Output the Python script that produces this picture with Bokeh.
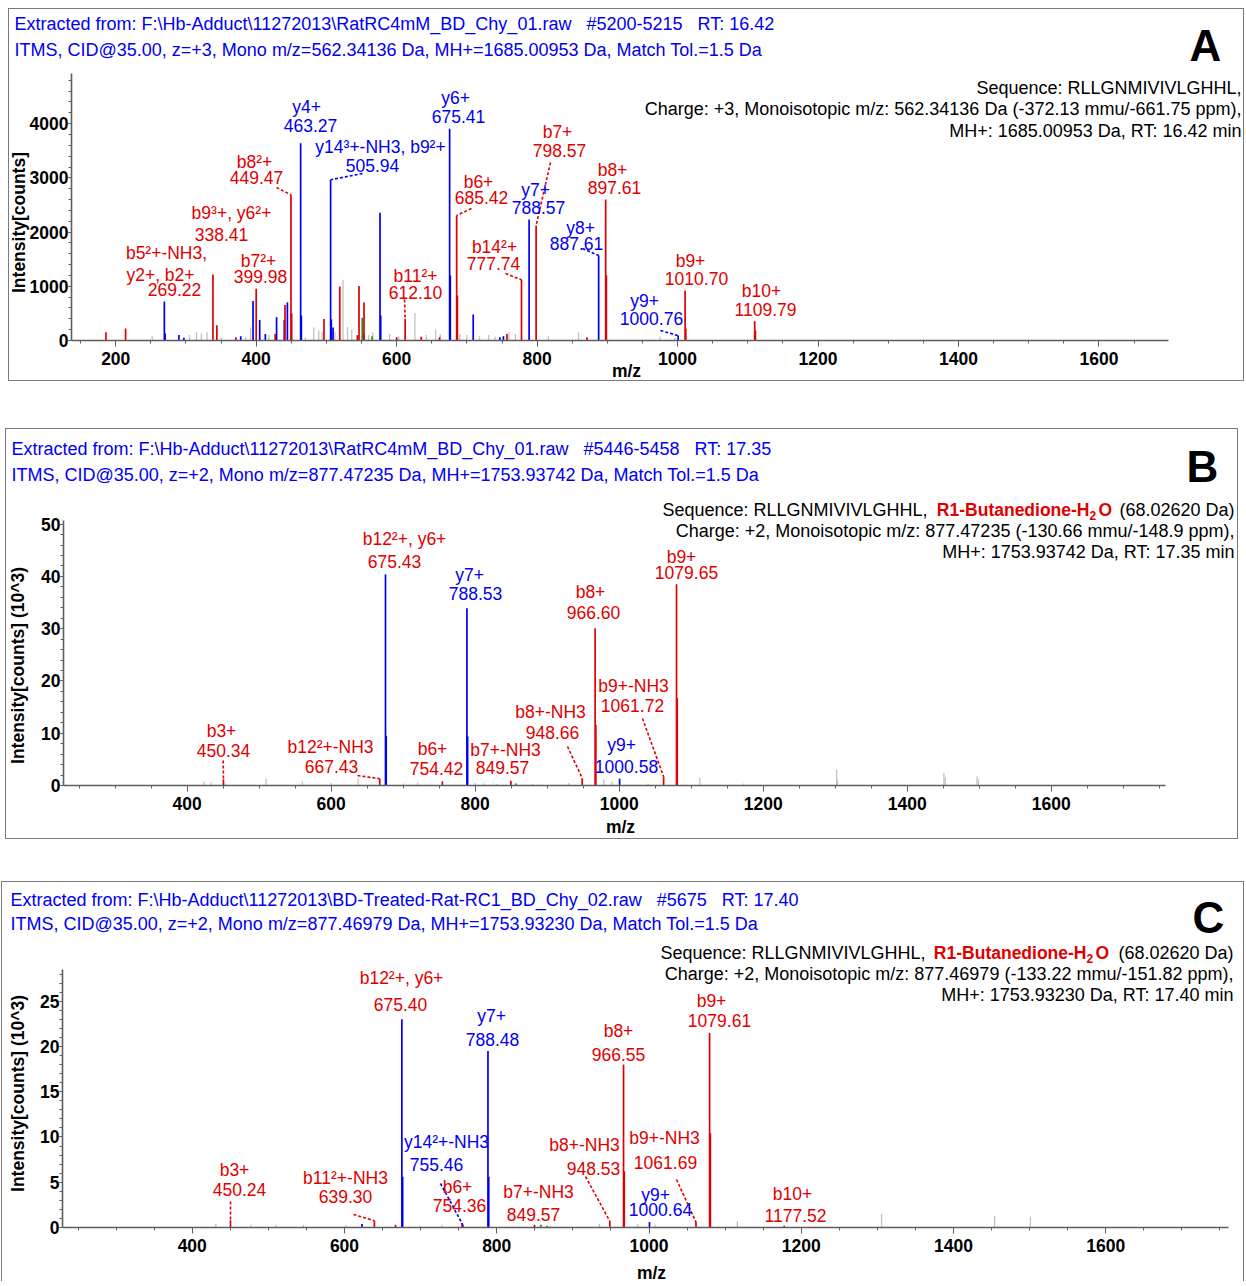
import math
from bokeh.plotting import figure
from bokeh.models import (ColumnDataSource, Label, Range1d, SingleIntervalTicker, Spacer,
                          LinearAxis)
from bokeh.layouts import column, row
from bokeh.embed import file_html
from bokeh.resources import INLINE

# ======================= DATA =======================
# ---- Panel A (intensity in counts) ----
a_b_mz = [186, 214, 338.41, 344, 371, 399.98, 427, 441, 449.47, 450.5, 496.5, 519, 544, 546.4, 553.5,
          600, 612.10, 635, 661, 685.42, 686.5, 757, 777.74, 798.57, 871, 897.61, 898.6, 1010.70,
          1011.7, 1109.79, 1110.8]
a_b_int = [150, 220, 1218, 280, 60, 954, 120, 653, 2688, 500, 397, 995, 100, 1007, 701,
           60, 400, 70, 60, 2306, 830, 120, 1120, 2122, 60, 2601, 1200, 922,
           220, 356, 185]
a_y_mz = [269.22, 270.3, 290, 297, 378, 395.5, 405, 413, 429, 440, 444.4, 463.27, 464.3, 505.94,
          506.9, 509.4, 576.3, 577.3, 675.41, 676.4, 709, 747, 752, 788.57, 887.61, 1000.76]
a_y_int = [720, 130, 100, 50, 80, 730, 380, 120, 430, 380, 703, 3640, 460, 2965,
           390, 240, 2356, 460, 3906, 1200, 480, 60, 80, 2232, 1568, 90]
a_g_mz = [551, 553, 565]
a_g_int = [420, 120, 80]
a_n_mz = [252, 305, 315, 322, 330, 350, 385, 392, 418, 470, 482, 489, 494, 512, 523.6, 530, 536,
          560, 566, 590, 603, 626, 642, 655.5, 662, 690, 700, 718, 731, 740, 760, 769, 816, 859,
          975, 996]
a_n_int = [80, 100, 150, 130, 150, 60, 60, 240, 100, 60, 245, 185, 150, 150, 1118, 250, 200,
           100, 150, 120, 80, 505, 100, 200, 120, 120, 100, 80, 100, 70, 150, 120, 80, 150,
           70, 50]
a_ann_ion = ["y4+", "y14³+-NH3, b9²+", "y6+", "b7+", "b8²+", "b6+", "y7+", "b8+", "b9³+, y6²+",
             "y8+", "b5²+-NH3,\ny2+, b2+", "b14²+", "b7²+", "b11²+", "b9+", "b10+", "y9+"]
a_ann_mz = ["463.27", "505.94", "675.41", "798.57", "449.47", "685.42", "788.57", "897.61",
            "338.41", "887.61", "269.22", "777.74", "399.98", "612.10", "1010.70", "1109.79",
            "1000.76"]
a_ann_kind = ["y", "y", "y", "b", "b", "b", "y", "b", "b", "y", "b", "b", "b", "b", "b", "b", "y"]
a_ann_peak = ["y", "y", "y", "b", "b", "b", "y", "b", "b", "y", "y", "b", "b", "b", "b", "b", "y"]

# ---- Panel B (intensity in 10^3 counts) ----
b_b_mz = [450.34, 667.43, 754.42, 849.57, 948.66, 966.60, 967.6, 1061.72, 1079.65, 1080.6]
b_b_int = [1.2, 1.3, 0.8, 0.9, 1.4, 30.1, 11.6, 1.7, 38.5, 16.7]
b_y_mz = [675.43, 676.4, 788.53, 789.5, 1000.58]
b_y_int = [40.4, 9.5, 33.9, 9.4, 1.3]
b_g_mz = [857]
b_g_int = [0.4]
b_n_mz = [423.5, 433, 453, 509.6, 560, 600, 637.5, 700, 720, 800, 812, 830, 880, 930, 978.6, 990,
          1040, 1112, 1173, 1302, 1303, 1451, 1453, 1497, 1499]
b_n_int = [0.7, 0.6, 0.4, 1.3, 0.8, 0.5, 1.4, 0.4, 0.6, 0.5, 0.4, 0.3, 0.3, 0.5, 1.2, 0.7,
           0.4, 1.5, 0.4, 3.0, 1.2, 2.4, 1.6, 1.7, 1.2]
b_ann_ion = ["b12²+, y6+", "y7+", "b8+", "b9+", "b9+-NH3", "b8+-NH3", "y9+", "b3+", "b12²+-NH3",
             "b6+", "b7+-NH3"]
b_ann_mz = ["675.43", "788.53", "966.60", "1079.65", "1061.72", "948.66", "1000.58", "450.34",
            "667.43", "754.42", "849.57"]
b_ann_kind = ["b", "y", "b", "b", "b", "b", "y", "b", "b", "b", "b"]
b_ann_peak = ["y", "y", "b", "b", "b", "b", "y", "b", "b", "b", "b"]

# ---- Panel C (intensity in 10^3 counts) ----
c_b_mz = [450.24, 639.30, 667, 754.36, 849.57, 948.53, 966.55, 967.5, 1061.69, 1079.61, 1080.6, 1177.52]
c_b_int = [0.8, 0.75, 0.3, 0.5, 0.3, 0.7, 18.0, 6.2, 0.6, 21.5, 10.4, 0.2]
c_y_mz = [623, 675.40, 676.4, 755.46, 788.48, 789.5, 1000.64]
c_y_int = [0.4, 23.0, 5.6, 0.3, 19.5, 5.6, 0.6]
c_g_mz = [858, 866]
c_g_int = [0.3, 0.2]
c_n_mz = [431, 477, 510, 546, 602, 700, 728, 870, 935, 985, 1008, 1116, 1305.5, 1454, 1501]
c_n_int = [0.4, 0.3, 0.3, 0.3, 0.3, 0.2, 0.3, 0.2, 0.4, 0.4, 0.3, 0.7, 1.5, 1.3, 1.2]
c_ann_ion = ["b12²+, y6+", "y7+", "b8+", "b9+", "y14²+-NH3", "b9+-NH3", "b8+-NH3", "b3+",
             "b11²+-NH3", "b6+", "b7+-NH3", "y9+", "b10+"]
c_ann_mz = ["675.40", "788.48", "966.55", "1079.61", "755.46", "1061.69", "948.53", "450.24",
            "639.30", "754.36", "849.57", "1000.64", "1177.52"]
c_ann_kind = ["b", "y", "b", "b", "y", "b", "b", "b", "b", "b", "b", "y", "b"]
c_ann_peak = ["y", "y", "b", "b", "y", "b", "b", "b", "b", "b", "b", "y", "b"]

# ---- texts ----
NB = "\u00a0\u00a0\u00a0"
a_head = ["Extracted from: F:\\Hb-Adduct\\11272013\\RatRC4mM_BD_Chy_01.raw" + NB + "#5200-5215" + NB + "RT: 16.42",
          "ITMS, CID@35.00, z=+3, Mono m/z=562.34136 Da, MH+=1685.00953 Da, Match Tol.=1.5 Da"]
a_info = ["Sequence: RLLGNMIVIVLGHHL,",
          "Charge: +3, Monoisotopic m/z: 562.34136 Da (-372.13 mmu/-661.75 ppm),",
          "MH+: 1685.00953 Da, RT: 16.42 min"]
b_head = ["Extracted from: F:\\Hb-Adduct\\11272013\\RatRC4mM_BD_Chy_01.raw" + NB + "#5446-5458" + NB + "RT: 17.35",
          "ITMS, CID@35.00, z=+2, Mono m/z=877.47235 Da, MH+=1753.93742 Da, Match Tol.=1.5 Da"]
b_info = ["Sequence: RLLGNMIVIVLGHHL,", "(68.02620 Da)",
          "Charge: +2, Monoisotopic m/z: 877.47235 (-130.66 mmu/-148.9 ppm),",
          "MH+: 1753.93742 Da, RT: 17.35 min"]
c_head = ["Extracted from: F:\\Hb-Adduct\\11272013\\BD-Treated-Rat-RC1_BD_Chy_02.raw" + NB + "#5675" + NB + "RT: 17.40",
          "ITMS, CID@35.00, z=+2, Mono m/z=877.46979 Da, MH+=1753.93230 Da, Match Tol.=1.5 Da"]
c_info = ["Sequence: RLLGNMIVIVLGHHL,", "(68.02620 Da)",
          "Charge: +2, Monoisotopic m/z: 877.46979 (-133.22 mmu/-151.82 ppm),",
          "MH+: 1753.93230 Da, RT: 17.40 min"]
mod_text = ["R1-Butanedione-H", "2", "O"]

# ======================= LAYOUT / STYLE =======================
RED = "#e00000"
BLUE = "#0000f2"
GRAY = "#c2c2c2"
GREEN = "#17961a"
KCOL = {"b": RED, "y": BLUE, "g": GREEN, "n": GRAY}
FONT = "Liberation Sans"
FS = "17.5px"
FH = "18px"
BORDER = "1px solid #7a7a7a"

# page-pixel geometry: canvas origin (cx, cy), canvas size, data frame box
geoA = dict(cx=9, cy=9, cw=1236, ch=373, fl=71, ft=73, fw=1097, fh=267)
geoB = dict(cx=6, cy=431, cw=1233, ch=411, fl=63, ft=522, fw=1102, fh=265)
geoC = dict(cx=2, cy=886, cw=1243, ch=400, fl=62, ft=973, fw=1166, fh=258)

# label positions (page px): one point per text line (ion lines..., m/z line)
a_pos = [[(306, 106), (310, 125)], [(380, 146), (372, 165)], [(455, 97), (458, 116)],
         [(557, 131), (559, 150)], [(254, 161), (256, 177)], [(478, 181), (481, 197)],
         [(535, 189), (538, 207)], [(612, 169), (614, 187)], [(231, 212), (221, 234)],
         [(580, 227), (576, 243)], [(166, 252), (160, 274), (174, 289)],
         [(494, 246), (493, 263)], [(258, 260), (260, 276)], [(415, 275), (415, 292)],
         [(690, 260), (696, 278)], [(761, 290), (765, 309)], [(644, 300), (651, 318)]]
b_pos = [[(404, 540), (394, 563)], [(469, 576), (475, 595)], [(590, 593), (593, 614)],
         [(681, 558), (686, 574)], [(633, 687), (632, 707)], [(550, 713), (552, 734)],
         [(621, 746), (626, 768)], [(221, 732), (223, 752)], [(330, 748), (331, 768)],
         [(432, 750), (436, 770)], [(505, 751), (502, 769)]]
c_pos = [[(401, 981), (400, 1008)], [(491, 1019), (492, 1043)], [(618, 1034), (618, 1058)],
         [(711, 1004), (719, 1024)], [(446, 1145), (436, 1168)], [(664, 1141), (665, 1166)],
         [(584, 1148), (593, 1172)], [(234, 1173), (239, 1193)], [(345, 1181), (345, 1200)],
         [(457, 1190), (459, 1209)], [(538, 1195), (533, 1218)], [(655, 1198), (660, 1213)],
         [(792, 1197), (795, 1219)]]
# leader lines: (annotation index, start point in page px) -> end at the peak top
a_lead = [(4, (276, 187)), (1, (362, 173)), (13, (404, 299)), (5, (471, 208)), (11, (505, 273)),
          (3, (550, 162)), (9, (582, 248)), (16, (660, 330))]
b_lead = [(7, (222.7, 762)), (8, (357, 777)), (5, (567, 748)), (4, (642, 720))]
c_lead = [(7, (230, 1205)), (8, (353, 1218)), (4, (440, 1187)), (6, (585, 1180)), (5, (676, 1183))]


def T(p, g, X, Y, text, color="black", size=FS, bold=False, align="center",
      baseline="middle", angle=0.0):
    p.add_layout(Label(x=X - g["cx"], y=g["cy"] + g["ch"] - Y, x_units="screen", y_units="screen",
                       text=text, text_color=color, text_font=FONT, text_font_size=size,
                       text_font_style="bold" if bold else "normal",
                       text_align=align, text_baseline=baseline, angle=angle))


def build(g, xr, yr, ytick, series, anns, pos, leads, head, head_x, head_y, letter, letter_xy,
          info, info_right, info_y, composite, ylabel, ylabel_xy, mz_xy, styles):
    # extend the data ranges so the frame covers the whole canvas (texts are then never clipped)
    ux = (xr[1] - xr[0]) / g["fw"]
    uy = (yr[1] - yr[0]) / g["fh"]
    fb = g["ft"] + g["fh"]
    ex0 = xr[0] - (g["fl"] - g["cx"]) * ux
    ex1 = xr[1] + (g["cx"] + g["cw"] - g["fl"] - g["fw"]) * ux
    ey0 = yr[0] - (g["cy"] + g["ch"] - fb) * uy
    ey1 = yr[1] + (g["ft"] - g["cy"]) * uy

    p = figure(width=g["cw"], height=g["ch"], min_border=0,
               x_range=Range1d(ex0, ex1), y_range=Range1d(ey0, ey1), title=None,
               x_axis_location=None, y_axis_location=None,
               output_backend="svg", toolbar_location=None, tools="", styles=styles)
    p.grid.visible = False
    p.outline_line_color = None
    p.background_fill_color = "white"
    p.border_fill_color = "white"

    xax = LinearAxis(fixed_location=yr[0], bounds=xr,
                     ticker=SingleIntervalTicker(interval=200, num_minor_ticks=4))
    yax = LinearAxis(fixed_location=xr[0], bounds=yr,
                     ticker=SingleIntervalTicker(interval=ytick, num_minor_ticks=5))
    for ax in (xax, yax):
        ax.axis_line_color = "#5e5e5e"
        ax.axis_line_width = 1.6
        ax.major_tick_line_color = "#5e5e5e"
        ax.minor_tick_line_color = "#5e5e5e"
        ax.major_tick_in = 0
        ax.minor_tick_out = 3
        ax.minor_tick_in = 0
        ax.major_label_text_font = FONT
        ax.major_label_text_font_style = "bold"
        ax.major_label_text_font_size = FS
        ax.major_label_text_color = "black"
    xax.major_tick_out = 6
    xax.major_label_standoff = 5
    yax.major_tick_out = 3
    yax.major_label_standoff = 0
    p.add_layout(xax, "below")
    p.add_layout(yax, "left")

    # peaks
    for kind in ("n", "g", "y", "b"):
        mz, it = series[kind]
        src = ColumnDataSource(dict(x=mz, y=it, y0=[0] * len(mz)))
        p.segment(x0="x", y0="y0", x1="x", y1="y", source=src, line_color=KCOL[kind],
                  line_width=1.3 if kind == "n" else 1.7)

    ions, mzs, kinds, peaks = anns

    def to_data(X, Y):
        return xr[0] + (X - g["fl"]) * ux, yr[0] + (fb - Y) * uy

    # leader lines
    for idx, (X, Y) in leads:
        pk = peaks[idx]
        target = float(mzs[idx])
        mzl, itl = series[pk]
        j = min(range(len(mzl)), key=lambda k: abs(mzl[k] - target))
        x0, y0 = to_data(X, Y)
        p.segment(x0=[x0], y0=[y0], x1=[mzl[j]], y1=[itl[j]], line_color=KCOL[kinds[idx]],
                  line_width=1.6, line_dash="3 2")

    # annotation texts
    for i in range(len(ions)):
        lines = ions[i].split("\n") + [mzs[i]]
        for ln, (X, Y) in zip(lines, pos[i]):
            T(p, g, X, Y, ln, color=KCOL[kinds[i]])

    for k, ln in enumerate(head):
        T(p, g, head_x, head_y[k], ln, color=BLUE, size=FH, align="left")
    T(p, g, letter_xy[0], letter_xy[1], letter, size="44px", bold=True)
    if composite is None:
        for k, ln in enumerate(info):
            T(p, g, info_right, info_y[k], ln, size=FH, align="right")
    else:
        seq_end, mod_end, sub_x, o_x, da_end = composite
        T(p, g, seq_end, info_y[0], info[0], size=FH, align="right")
        T(p, g, mod_end, info_y[0], mod_text[0], color=RED, size="17.5px", bold=True, align="right")
        T(p, g, sub_x, info_y[0] + 6, mod_text[1], color=RED, bold=True, size="12px", align="left")
        T(p, g, o_x, info_y[0], mod_text[2], color=RED, size="17.5px", bold=True, align="left")
        T(p, g, da_end, info_y[0], info[1], size=FH, align="right")
        for k, ln in enumerate(info[2:]):
            T(p, g, info_right, info_y[k + 1], ln, size=FH, align="right")
    T(p, g, ylabel_xy[0], ylabel_xy[1], ylabel, bold=True, angle=math.pi / 2)
    T(p, g, mz_xy[0], mz_xy[1], "m/z", bold=True)
    return p


pA = build(geoA, (137, 1699), (0, 4925), 1000,
           {"b": (a_b_mz, a_b_int), "y": (a_y_mz, a_y_int), "g": (a_g_mz, a_g_int), "n": (a_n_mz, a_n_int)},
           (a_ann_ion, a_ann_mz, a_ann_kind, a_ann_peak), a_pos, a_lead,
           a_head, 14, [23, 49], "A", (1205, 45),
           a_info, 1241, [87, 108, 130], None,
           "Intensity[counts]", (18, 222), (626, 370),
           {"border": BORDER})
pB = build(geoB, (228.2, 1758.8), (0, 50.7), 10,
           {"b": (b_b_mz, b_b_int), "y": (b_y_mz, b_y_int), "g": (b_g_mz, b_g_int), "n": (b_n_mz, b_n_int)},
           (b_ann_ion, b_ann_mz, b_ann_kind, b_ann_peak), b_pos, b_lead,
           b_head, 11, [450, 476], "B", (1202, 468),
           b_info, 1234, [511, 532, 553], (927, 1089, 1089, 1098, 1234),
           "Intensity[counts] (10^3)", (17, 667), (620, 828),
           {"border": BORDER})
pC = build(geoC, (229.6, 1761.2), (0, 28.5), 5,
           {"b": (c_b_mz, c_b_int), "y": (c_y_mz, c_y_int), "g": (c_g_mz, c_g_int), "n": (c_n_mz, c_n_int)},
           (c_ann_ion, c_ann_mz, c_ann_kind, c_ann_peak), c_pos, c_lead,
           c_head, 10, [903, 927], "C", (1208, 921),
           c_info, 1233, [956, 977, 998], (925, 1086, 1086, 1095, 1233),
           "Intensity[counts] (10^3)", (17, 1097), (651, 1276),
           {"border-top": BORDER, "border-left": BORDER, "border-right": BORDER})

layout = column(Spacer(height=8),
                row(Spacer(width=8), pA),
                Spacer(height=47),
                row(Spacer(width=5), pB),
                Spacer(height=42),
                row(Spacer(width=1), pC))
open("out.html", "w").write(file_html(layout, INLINE))
